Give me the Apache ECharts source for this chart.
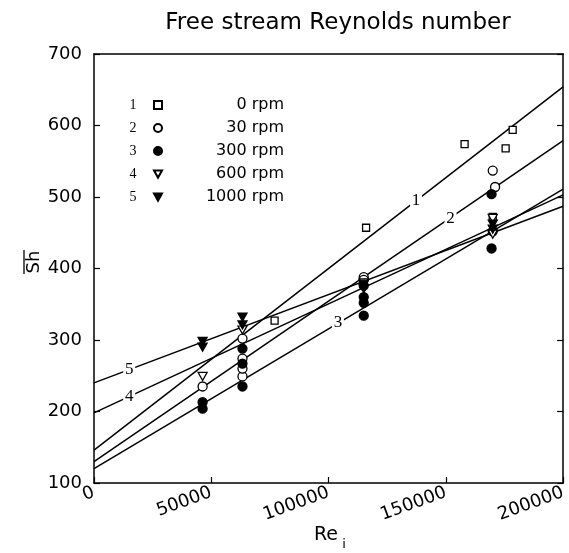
<!DOCTYPE html>
<html>
<head>
<meta charset="utf-8">
<script src="https://cdn.jsdelivr.net/npm/echarts@6/dist/echarts.min.js"></script>
<style>
  html, body { margin: 0; padding: 0; background: #fff; }
  #chart { width: 569px; height: 553px; }
</style>
</head>
<body>
<div id="chart"></div>
<script>
// axis ranges
var xMin = 0, xMax = 200000, xStep = 50000
var yMin = 100, yMax = 700, yStep = 100

// measured points, [Re_i, Sh]
var rpm0 = [[77000, 327], [116000, 457], [158000, 574], [170000, 472], [175500, 568], [178500, 594]]
var rpm30 = [[46300, 235], [63300, 249], [63300, 260], [63300, 274], [63300, 302], [115000, 388], [115000, 384], [170000, 537], [171000, 514]]
var rpm300 = [[46300, 213], [46300, 204], [63300, 235], [63300, 267], [63300, 288], [115000, 376], [115000, 360], [115000, 352], [115000, 334], [169500, 504], [170000, 452], [169500, 428]]
var rpm600 = [[46300, 249], [63300, 314], [115000, 380], [170000, 470], [170000, 448]]
var rpm1000 = [[46300, 298], [46300, 290], [63300, 332], [63300, 321], [115000, 372], [115000, 378], [170000, 462], [170000, 455]]

var seriesNames = ['0 rpm', '30 rpm', '300 rpm', '600 rpm', '1000 rpm']

// fitted lines: Sh at Re=0 and at Re=200000
var fitStart = [146, 130, 120, 198, 240]
var fitEnd = [654, 579, 511, 503, 487]
// where the line number sits on each line
var fitLabelRe = [137300, 152000, 104000, 15000, 15000]
var fitLabelSh = [495, 470, 324, 221, 258]

var sansFont = 'DejaVu Sans'
var serifFont = 'Liberation Serif'

var downTri = 'path://M0,0L10,0L5,9Z'

function scatter (name, data, symbol, size, filled) {
  return {
    name: name,
    type: 'scatter',
    data: data,
    symbol: symbol,
    symbolSize: size,
    z: 3,
    itemStyle: {
      color: filled ? '#000' : '#fff',
      borderColor: '#000',
      borderWidth: 1.3,
      opacity: 1
    }
  }
}

var series = [
  scatter(seriesNames[0], rpm0, 'rect', 7, false),
  scatter(seriesNames[1], rpm30, 'circle', 9, false),
  scatter(seriesNames[2], rpm300, 'circle', 9, true),
  scatter(seriesNames[3], rpm600, downTri, [9, 8], false),
  scatter(seriesNames[4], rpm1000, downTri, [9, 8], true)
]

for (var i = 0; i < fitStart.length; i++) {
  series.push({
    type: 'line',
    data: [[xMin, fitStart[i]], [xMax, fitEnd[i]]],
    symbol: 'none',
    silent: true,
    z: 2,
    lineStyle: { color: '#000', width: 1.5 },
    markPoint: {
      symbol: 'rect',
      symbolSize: [12, 18],
      silent: true,
      itemStyle: { color: '#fff' },
      label: {
        show: true,
        position: 'inside',
        formatter: String(i + 1),
        color: '#000',
        fontFamily: serifFont,
        fontSize: 17
      },
      data: [{ coord: [fitLabelRe[i], fitLabelSh[i]] }]
    }
  })
}

var legendNumbers = []
for (var k = 0; k < seriesNames.length; k++) {
  legendNumbers.push({
    type: 'text',
    x: 133,
    y: 105 + k * 23,
    style: {
      text: String(k + 1),
      font: '14px ' + serifFont,
      fill: '#000',
      textAlign: 'center',
      textVerticalAlign: 'middle'
    }
  })
}

var tickStyle = { show: true, inside: true, length: 6, lineStyle: { color: '#000', width: 1.2 } }

var option = {
  animation: false,
  backgroundColor: '#fff',
  grid: { left: 94, right: 3, top: 54, bottom: 70 },
  legend: {
    data: seriesNames,
    orient: 'vertical',
    left: 153,
    top: 97,
    padding: 0,
    itemWidth: 8,
    itemHeight: 8,
    itemGap: 7,
    selectedMode: false,
    formatter: function (name) { return '{t|' + name + '}' },
    textStyle: {
      rich: {
        t: { width: 117, align: 'right', fontFamily: sansFont, fontSize: 16, lineHeight: 16, color: '#000' }
      }
    }
  },
  xAxis: [{
    type: 'value',
    min: xMin,
    max: xMax,
    interval: xStep,
    axisLine: { onZero: false, lineStyle: { color: '#000', width: 1.5 } },
    axisTick: tickStyle,
    splitLine: { show: false },
    axisLabel: {
      rotate: 20,
      margin: 9,
      color: '#000',
      fontFamily: sansFont,
      fontSize: 18,
      formatter: function (v) { return String(v) }
    }
  }, {
    type: 'value',
    position: 'top',
    min: xMin,
    max: xMax,
    interval: xStep,
    axisLine: { show: true, onZero: false, lineStyle: { color: '#000', width: 1.5 } },
    axisTick: { show: false },
    axisLabel: { show: false },
    splitLine: { show: false }
  }],
  yAxis: [{
    type: 'value',
    min: yMin,
    max: yMax,
    interval: yStep,
    axisLine: { show: true, onZero: false, lineStyle: { color: '#000', width: 1.5 } },
    axisTick: tickStyle,
    splitLine: { show: false },
    axisLabel: { margin: 12, color: '#000', fontFamily: sansFont, fontSize: 18 }
  }, {
    type: 'value',
    position: 'right',
    min: yMin,
    max: yMax,
    interval: yStep,
    axisLine: { show: true, onZero: false, lineStyle: { color: '#000', width: 1.5 } },
    axisTick: tickStyle,
    axisLabel: { show: false },
    splitLine: { show: false }
  }],
  graphic: legendNumbers.concat([
    {
      type: 'text',
      x: 338,
      y: 23,
      style: { text: 'Free stream Reynolds number', font: '23px ' + sansFont, fill: '#000', textAlign: 'center', textVerticalAlign: 'middle' }
    },
    {
      type: 'text',
      x: 326,
      y: 535,
      style: { text: 'Re', font: '19px ' + sansFont, fill: '#000', textAlign: 'center', textVerticalAlign: 'middle' }
    },
    {
      type: 'text',
      x: 344,
      y: 545,
      style: { text: 'i', font: '13px ' + sansFont, fill: '#000', textAlign: 'center', textVerticalAlign: 'middle' }
    },
    {
      type: 'text',
      x: 34,
      y: 262,
      rotation: Math.PI / 2,
      style: { text: 'Sh', font: '18px ' + sansFont, fill: '#000', textAlign: 'center', textVerticalAlign: 'middle' }
    },
    {
      type: 'line',
      shape: { x1: 24, y1: 250, x2: 24, y2: 274 },
      style: { stroke: '#000', lineWidth: 1.3 }
    }
  ]),
  series: series
}

var chart = echarts.init(document.getElementById('chart'))
chart.setOption(option)
</script>
</body>
</html>
